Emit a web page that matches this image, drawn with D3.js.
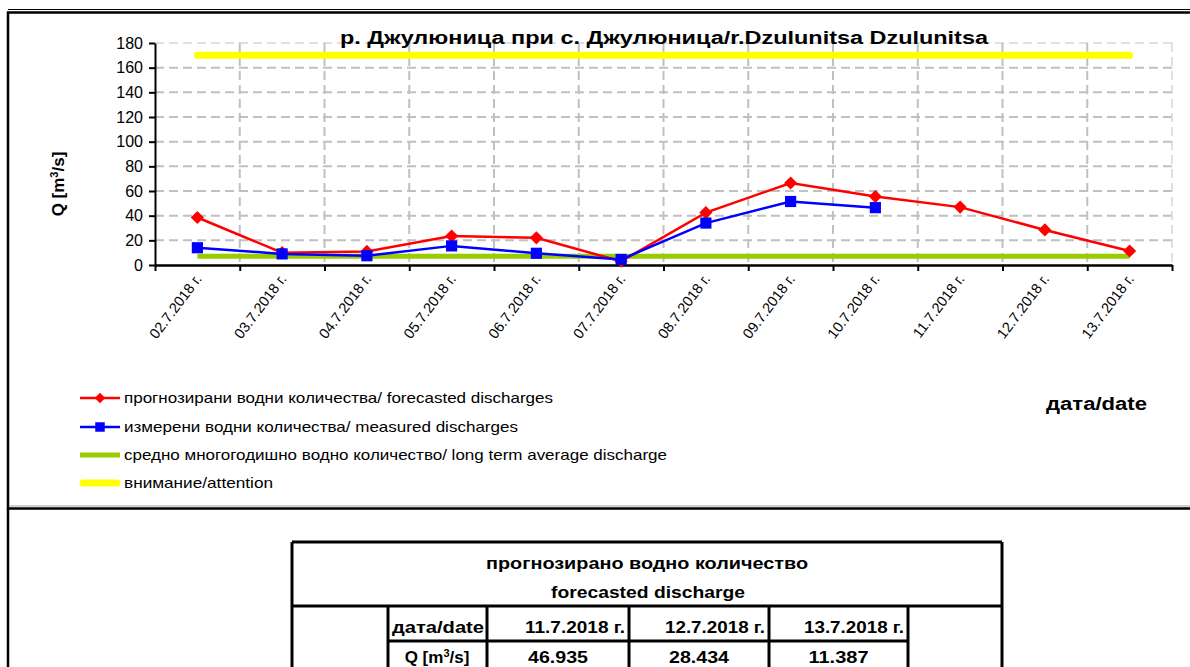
<!DOCTYPE html>
<html>
<head>
<meta charset="utf-8">
<script src="https://cdn.jsdelivr.net/npm/d3@7"></script>
<style>
  body { margin: 0; background: #fff; }
  svg { display: block; font-family: Arial, "Liberation Sans", sans-serif; }
</style>
</head>
<body>
<script>
const width = 1190;
const height = 667;

// chart data
const dates = ["02.7.2018 г.", "03.7.2018 г.", "04.7.2018 г.", "05.7.2018 г.", "06.7.2018 г.", "07.7.2018 г.",
  "08.7.2018 г.", "09.7.2018 г.", "10.7.2018 г.", "11.7.2018 г.", "12.7.2018 г.", "13.7.2018 г."];
const forecast = [38.5, 10, 11, 23.5, 22, 3, 42.5, 66.5, 55.5, 46.935, 28.434, 11.387];
const measured = [14, 9, 7.5, 15.5, 9.5, 4.5, 34, 51.5, 46.5, null, null, null];
const longTermAverage = 7;
const attention = 170;
const yTicks = [0, 20, 40, 60, 80, 100, 120, 140, 160, 180];

const titleText = "р. Джулюница при с. Джулюница/r.Dzulunitsa Dzulunitsa";
const legendLabels = [
  "прогнозирани водни количества/ forecasted discharges",
  "измерени водни количества/ measured discharges",
  "средно многогодишно водно количество/ long term average discharge",
  "внимание/attention"
];

// forecast table (last three forecast days)
const tableDates = dates.slice(-3).map(d => d.replace(/^0/, ""));
const tableValues = forecast.slice(-3).map(d3.format(".3f"));

const svg = d3.select("body")
  .append("svg")
  .attr("width", width)
  .attr("height", height);

// chart frame
svg.append("line").attr("x1", 8).attr("x2", width).attr("y1", 9.5).attr("y2", 9.5)
  .style("stroke", "#000").style("stroke-width", 1);
svg.append("rect").attr("x", 8).attr("y", 12.5).attr("width", width).attr("height", 496)
  .style("fill", "none").style("stroke", "#000").style("stroke-width", 2.5);
svg.append("line").attr("x1", 9).attr("x2", width).attr("y1", 506).attr("y2", 506)
  .style("stroke", "#a0a0a0").style("stroke-width", 1);
svg.append("line").attr("x1", 8).attr("x2", 8).attr("y1", 508).attr("y2", height)
  .style("stroke", "#000").style("stroke-width", 2.5);

const plot = { left: 155, right: 1172, top: 43, bottom: 265 };

const x = d3.scaleBand().domain(dates).range([plot.left, plot.right]).padding(0);
const xb = d3.scaleLinear().domain([0, dates.length]).range([plot.left, plot.right]);
const y = d3.scaleLinear().domain([0, 180]).range([plot.bottom, plot.top]);
const cx = d => x(d) + x.bandwidth() / 2;

// grid
svg.append("g").selectAll("line")
  .data(yTicks.filter(t => t > 0))
  .enter().append("line")
  .attr("x1", plot.left).attr("x2", plot.right)
  .attr("y1", d => y(d)).attr("y2", d => y(d))
  .style("stroke", d => d == 180 ? "#d6d6d6" : "#c0c0c0")
  .style("stroke-width", d => d == 180 ? 1.5 : 2)
  .style("stroke-dasharray", "9,5");

svg.append("g").selectAll("line")
  .data(d3.range(1, dates.length + 1))
  .enter().append("line")
  .attr("x1", d => xb(d)).attr("x2", d => xb(d))
  .attr("y1", plot.top).attr("y2", plot.bottom)
  .style("stroke", d => d == dates.length ? "#d6d6d6" : "#c0c0c0")
  .style("stroke-width", d => d == dates.length ? 1.5 : 2)
  .style("stroke-dasharray", "9,5");

// y axis
const yAxis = svg.append("g")
  .attr("transform", `translate(${plot.left},0)`)
  .call(d3.axisLeft(y).tickValues(yTicks).tickSize(6).tickSizeOuter(0).tickPadding(6));
yAxis.select(".domain").style("stroke", "#000").style("stroke-width", 2);
yAxis.selectAll(".tick line").style("stroke", "#000").style("stroke-width", 2);
yAxis.selectAll("text").style("font-size", "16px").style("fill", "#000")
  .style("font-family", "Arial, 'Liberation Sans', sans-serif");

// x axis (ticks at category boundaries)
const xAxis = svg.append("g")
  .attr("transform", `translate(0,${plot.bottom})`)
  .call(d3.axisBottom(xb).tickValues(d3.range(dates.length + 1)).tickFormat("").tickSize(6).tickSizeOuter(0));
xAxis.select(".domain").style("stroke", "#000").style("stroke-width", 2.5);
xAxis.selectAll(".tick line").style("stroke", "#000").style("stroke-width", 2);

svg.append("g").selectAll("text")
  .data(dates)
  .enter().append("text")
  .attr("transform", d => `translate(${cx(d) + 5},${plot.bottom + 14}) rotate(-53)`)
  .attr("text-anchor", "end")
  .style("font-size", "14.5px")
  .text(d => d);

// reference lines
svg.append("line")
  .attr("x1", cx(dates[0])).attr("x2", cx(dates[dates.length - 1]))
  .attr("y1", y(attention)).attr("y2", y(attention))
  .style("stroke", "#ffff00").style("stroke-width", 7).style("stroke-linecap", "round");

svg.append("line")
  .attr("x1", cx(dates[0])).attr("x2", cx(dates[dates.length - 1]))
  .attr("y1", y(longTermAverage)).attr("y2", y(longTermAverage))
  .style("stroke", "#99cc00").style("stroke-width", 5);

// series
const line = d3.line()
  .defined(d => d.v != null)
  .x(d => cx(d.date))
  .y(d => y(d.v));

const forecastPts = dates.map((d, i) => ({ date: d, v: forecast[i] }));
const measuredPts = dates.map((d, i) => ({ date: d, v: measured[i] }));

svg.append("path").datum(forecastPts).attr("d", line)
  .style("fill", "none").style("stroke", "#ff0000").style("stroke-width", 2.5);
svg.append("path").datum(measuredPts).attr("d", line)
  .style("fill", "none").style("stroke", "#0000ff").style("stroke-width", 2.5);

const diamond = d3.symbol().type(d3.symbolDiamond2).size(110);
const square = d3.symbol().type(d3.symbolSquare).size(125);

svg.append("g").selectAll("path")
  .data(forecastPts)
  .enter().append("path")
  .attr("transform", d => `translate(${cx(d.date)},${y(d.v)})`)
  .attr("d", diamond)
  .style("fill", "#ff0000");

svg.append("g").selectAll("path")
  .data(measuredPts.filter(d => d.v != null))
  .enter().append("path")
  .attr("transform", d => `translate(${cx(d.date)},${y(d.v)})`)
  .attr("d", square)
  .style("fill", "#0000ff");

// title
svg.append("text")
  .attr("x", 664).attr("y", 44)
  .attr("text-anchor", "middle")
  .attr("textLength", 648).attr("lengthAdjust", "spacingAndGlyphs")
  .style("font-size", "18px").style("font-weight", "bold")
  .text(titleText);

// y label
const yLabel = svg.append("text")
  .attr("transform", "translate(64,184) rotate(-90)")
  .attr("text-anchor", "middle")
  .style("font-size", "17px").style("font-weight", "bold");
yLabel.append("tspan").text("Q [m");
yLabel.append("tspan").attr("baseline-shift", "super").style("font-size", "11px").text("3");
yLabel.append("tspan").text("/s]");

// x label
svg.append("text")
  .attr("x", 1046).attr("y", 410)
  .attr("textLength", 101).attr("lengthAdjust", "spacingAndGlyphs")
  .style("font-size", "18px").style("font-weight", "bold")
  .text("дата/date");

// legend
const legendRows = [398, 427, 455, 483];
const legendWidths = [429, 394, 543, 149];
const legendColors = ["#ff0000", "#0000ff", "#99cc00", "#ffff00"];
const legend = svg.append("g");
legendLabels.forEach(function(label, i) {
  const ly = legendRows[i];
  legend.append("line")
    .attr("x1", i == 3 ? 83 : 80).attr("x2", i == 3 ? 117 : 120).attr("y1", ly).attr("y2", ly)
    .style("stroke", legendColors[i])
    .style("stroke-width", i == 3 ? 7 : (i == 2 ? 5 : 2.5))
    .style("stroke-linecap", i == 3 ? "round" : "butt");
  if (i == 0) legend.append("path").attr("transform", `translate(100,${ly})`)
    .attr("d", d3.symbol().type(d3.symbolDiamond2).size(70)).style("fill", "#ff0000");
  if (i == 1) legend.append("path").attr("transform", `translate(100,${ly})`)
    .attr("d", d3.symbol().type(d3.symbolSquare).size(90)).style("fill", "#0000ff");
  legend.append("text")
    .attr("x", 124).attr("y", ly + 5)
    .attr("textLength", legendWidths[i]).attr("lengthAdjust", "spacingAndGlyphs")
    .style("font-size", "14.5px")
    .text(label);
});

// forecast table
const table = svg.append("g");
const tLine = (x1, y1, x2, y2) => table.append("line")
  .attr("x1", x1).attr("y1", y1).attr("x2", x2).attr("y2", y2)
  .style("stroke", "#000").style("stroke-width", 3);

tLine(292, 542, 1002, 542);
tLine(292, 542, 292, height);
tLine(1002, 542, 1002, height);
tLine(292, 606, 1002, 606);
tLine(388, 641, 908, 641);
const colX = [388, 487, 629, 769, 908];
colX.forEach(c => tLine(c, 606, c, height));

const tText = (tx, ty, anchor, str, w) => table.append("text")
  .attr("x", tx).attr("y", ty).attr("text-anchor", anchor)
  .attr("textLength", w).attr("lengthAdjust", "spacingAndGlyphs")
  .style("font-size", "17px").style("font-weight", "bold")
  .text(str);

tText(647, 569, "middle", "прогнозирано водно количество", 322);
tText(648, 598, "middle", "forecasted discharge", 194);
tText(438, 633, "middle", "дата/date", 92);
tableDates.forEach((d, i) => tText(colX[i + 2] - 4, 633, "end", d, 100));
tableValues.forEach((v, i) => tText((colX[i + 1] + colX[i + 2]) / 2, 663, "middle", v, 60));

const qLabel = table.append("text")
  .attr("x", 437).attr("y", 663).attr("text-anchor", "middle")
  .style("font-size", "17px").style("font-weight", "bold");
qLabel.append("tspan").text("Q [m");
qLabel.append("tspan").attr("baseline-shift", "super").style("font-size", "11px").text("3");
qLabel.append("tspan").text("/s]");
</script>
</body>
</html>
